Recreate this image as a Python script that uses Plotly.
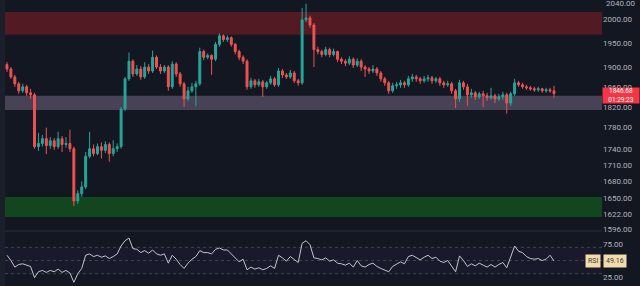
import plotly.graph_objects as go
import math

# ---- data ----
opens = [1905,1896,1880,1866,1852,1860,1848,1844,1744,1750,
         1759,1746,1755,1744,1759,1748,1750,1740,1645,1658,
         1670,1726,1740,1731,1744,1737,1748,1731,1740,1744,
         1816,1876,1912,1886,1896,1880,1900,1892,1920,1900,
         1892,1900,1860,1906,1886,1866,1836,1852,1860,1866,
         1932,1920,1924,1916,1947,1965,1957,1961,1947,1932,
         1920,1912,1860,1872,1864,1870,1860,1868,1876,1864,
         1892,1884,1880,1888,1872,1868,1999,2003,1988,1936,
         1932,1926,1936,1926,1932,1916,1912,1908,1916,1904,
         1912,1900,1896,1892,1896,1888,1876,1868,1852,1862,
         1864,1868,1864,1876,1880,1876,1872,1876,1878,1872,
         1876,1868,1864,1866,1852,1836,1868,1860,1844,1848,
         1840,1846,1842,1838,1842,1836,1840,1844,1828,1846,
         1868,1864,1860,1858,1856,1854,1856,1852,1854,1852]

closes = [1896,1880,1866,1852,1860,1848,1844,1744,1750,1759,
          1746,1755,1744,1759,1748,1750,1740,1645,1658,1670,
          1726,1740,1731,1744,1737,1748,1731,1740,1744,1816,
          1876,1912,1886,1896,1880,1900,1892,1920,1900,1892,
          1900,1860,1906,1886,1866,1836,1852,1860,1866,1932,
          1920,1924,1916,1947,1965,1957,1961,1947,1932,1920,
          1912,1860,1872,1864,1870,1860,1868,1876,1864,1892,
          1884,1880,1888,1872,1868,1999,2003,1988,1936,1932,
          1926,1936,1926,1932,1916,1912,1908,1916,1904,1912,
          1900,1896,1892,1896,1888,1876,1868,1852,1862,1864,
          1868,1864,1876,1880,1876,1872,1876,1878,1872,1876,
          1868,1864,1866,1852,1836,1868,1860,1844,1848,1840,
          1846,1842,1838,1842,1836,1840,1844,1828,1846,1868,
          1864,1860,1858,1856,1854,1856,1852,1854,1852,1846.68]

highs = [1910,1900,1884,1870,1866,1864,1856,1848,1770,1766,
         1780,1762,1760,1772,1764,1762,1776,1744,1664,1680,
         1734,1772,1748,1750,1752,1754,1752,1756,1750,1820,
         1880,1930,1916,1904,1902,1910,1906,1934,1924,1906,
         1904,1904,1912,1910,1890,1870,1860,1868,1872,1940,
         1936,1928,1926,1952,1970,1968,1966,1964,1950,1936,
         1924,1916,1878,1876,1876,1874,1872,1882,1880,1898,
         1896,1888,1894,1892,1876,2025,2034,2008,1992,1942,
         1936,1942,1940,1938,1934,1920,1916,1922,1920,1918,
         1916,1904,1900,1904,1900,1892,1880,1872,1868,1870,
         1874,1872,1882,1886,1884,1880,1882,1884,1882,1880,
         1880,1872,1872,1870,1856,1874,1872,1866,1856,1852,
         1850,1852,1848,1858,1846,1846,1850,1848,1850,1876,
         1872,1868,1864,1862,1860,1860,1858,1858,1858,1862]

lows = [1890,1876,1860,1846,1848,1842,1836,1740,1736,1744,
        1730,1740,1738,1740,1734,1742,1734,1636,1640,1652,
        1666,1722,1726,1728,1722,1732,1716,1726,1734,1740,
        1812,1872,1880,1882,1874,1876,1886,1888,1896,1886,
        1888,1852,1856,1880,1860,1820,1832,1848,1822,1862,
        1914,1916,1884,1912,1942,1952,1952,1942,1926,1914,
        1906,1854,1856,1858,1860,1840,1856,1864,1860,1860,
        1878,1876,1876,1868,1862,1864,1994,1982,1900,1926,
        1920,1922,1920,1922,1910,1906,1902,1904,1898,1900,
        1892,1880,1886,1888,1882,1870,1862,1846,1848,1856,
        1858,1858,1860,1870,1870,1866,1868,1870,1866,1868,
        1862,1858,1860,1846,1818,1830,1854,1822,1838,1834,
        1836,1820,1832,1834,1828,1832,1834,1807,1822,1842,
        1860,1856,1854,1852,1850,1850,1848,1848,1848,1838]

rsi = [58,50,40,44,45,43,41,24,33,35,
       32,35,33,37,32,35,31,17,30,38,
       58,60,56,58,55,57,53,56,60,72,
       80,84,68,67,62,65,61,66,60,58,
       60,46,58,52,44,38,46,52,56,65,
       62,62,60,67,69,66,66,60,54,48,
       52,36,40,37,39,36,38,42,38,58,
       54,49,56,52,47,76,80,74,54,53,
       51,54,49,51,46,45,43,46,40,50,
       42,40,44,46,41,38,36,33,41,44,
       48,45,56,58,54,51,55,58,53,55,
       49,47,50,42,33,57,50,41,45,42,
       46,43,40,44,40,44,47,39,55,72,
       64,62,56,53,52,53,50,52,58,49.16]

price_ticks = [2040, 2000, 1950, 1900, 1860, 1820, 1780, 1740, 1710, 1680, 1650, 1622, 1596]
rsi_ticks = [75, 25]
rsi_levels = [70, 50, 30]

zone_red = (1967, 2016)
zone_purple = (1814, 1842)
zone_green = (1617, 1652)

last_price = closes[-1]
countdown = "01:29:23"

idx = list(range(len(closes)))

BG = "#131722"
TXT = "#b2b5be"
FONT = "Roboto"
Y_TOP, Y_BOT = 2042.2, 1592.6

fig = go.Figure()

fig.add_trace(go.Candlestick(
    x=idx, open=opens, high=highs, low=lows, close=closes,
    increasing=dict(line=dict(color="#26a69a", width=1), fillcolor="#26a69a"),
    decreasing=dict(line=dict(color="#ef5350", width=1), fillcolor="#ef5350"),
    whiskerwidth=0, xaxis="x", yaxis="y", showlegend=False, hoverinfo="skip",
))

fig.add_trace(go.Scatter(
    x=idx, y=rsi, mode="lines", line=dict(color="#c3c5cc", width=1),
    xaxis="x2", yaxis="y2", showlegend=False, hoverinfo="skip",
))

shapes = []
for (lo, hi), col in [(zone_red, "#521a23"), (zone_purple, "#484257"), (zone_green, "#12461e")]:
    shapes.append(dict(type="rect", xref="x domain", yref="y", x0=0, x1=1, y0=lo, y1=hi,
                       fillcolor=col, line=dict(width=0), layer="below"))
shapes.append(dict(type="rect", xref="x2 domain", yref="y2", x0=0, x1=1, y0=rsi_levels[2], y1=rsi_levels[0],
                   fillcolor="rgba(126,87,194,0.05)", line=dict(width=0), layer="below"))
for lv in rsi_levels:
    shapes.append(dict(type="line", xref="x2 domain", yref="y2", x0=0, x1=1, y0=lv, y1=lv,
                       line=dict(color="rgba(120,123,134,0.45)", width=1, dash="dot"), layer="below"))
shapes.append(dict(type="line", xref="paper", yref="paper", x0=0, x1=1, y0=55/286, y1=55/286,
                   line=dict(color="#2a2e39", width=1)))
shapes.append(dict(type="rect", xref="paper", yref="paper", x0=-5/597, x1=0, y0=0, y1=1,
                   fillcolor="#1b1f2b", line=dict(width=0), layer="below"))

annotations = [
    dict(xref="paper", yref="y", x=1.0, y=math.log10(price_ticks[0]), xanchor="left", yanchor="middle",
         text=f"{price_ticks[0]:.2f}", showarrow=False, xshift=2, yshift=-2,
         font=dict(family=FONT, size=8, color=TXT)),
    dict(xref="paper", yref="y", x=1.0, y=math.log10(last_price), xanchor="left", yanchor="top",
         text=f"{last_price:.2f}<br>{countdown}", showarrow=False, align="center",
         font=dict(family=FONT, size=6.5, color="#ffffff"), bgcolor="#f23645",
         borderpad=0, width=36, height=15, yshift=6),
    dict(xref="paper", yref="y2", x=1.0, y=rsi[-1], xanchor="right", yanchor="middle",
         text="RSI", showarrow=False, font=dict(family=FONT, size=7, color="#3a3a3a"),
         bgcolor="#f3dcab", borderpad=2, xshift=-1),
    dict(xref="paper", yref="y2", x=1.0, y=rsi[-1], xanchor="left", yanchor="middle",
         text=f"{rsi[-1]:.2f}", showarrow=False, font=dict(family=FONT, size=7, color="#3a3a3a"),
         bgcolor="#f3dcab", borderpad=2, xshift=1),
]

fig.update_layout(
    width=640, height=286,
    margin=dict(l=5, r=38, t=0, b=0),
    paper_bgcolor=BG, plot_bgcolor=BG,
    shapes=shapes, annotations=annotations,
    showlegend=False,
    xaxis=dict(domain=[0, 1], range=[-0.5, 151.2], visible=False, rangeslider=dict(visible=False),
               anchor="y"),
    xaxis2=dict(domain=[0, 1], range=[-0.5, 151.2], visible=False, anchor="y2", matches="x"),
    yaxis=dict(domain=[55/286, 1], type="log", side="right",
               range=[math.log10(Y_BOT), math.log10(Y_TOP)],
               tickvals=price_ticks[1:], ticktext=[f"{v:.2f}" for v in price_ticks[1:]],
               showgrid=False, zeroline=False, showline=False, ticks="",
               tickfont=dict(family=FONT, size=8, color=TXT), automargin=False, anchor="x"),
    yaxis2=dict(domain=[0, 54/286], side="right", range=[11.4, 93.2],
                tickvals=rsi_ticks, ticktext=[f"{v:.2f}" for v in rsi_ticks],
                showgrid=False, zeroline=False, showline=False, ticks="",
                tickfont=dict(family=FONT, size=8, color=TXT), automargin=False, anchor="x2"),
)

fig.write_html("out.html")
